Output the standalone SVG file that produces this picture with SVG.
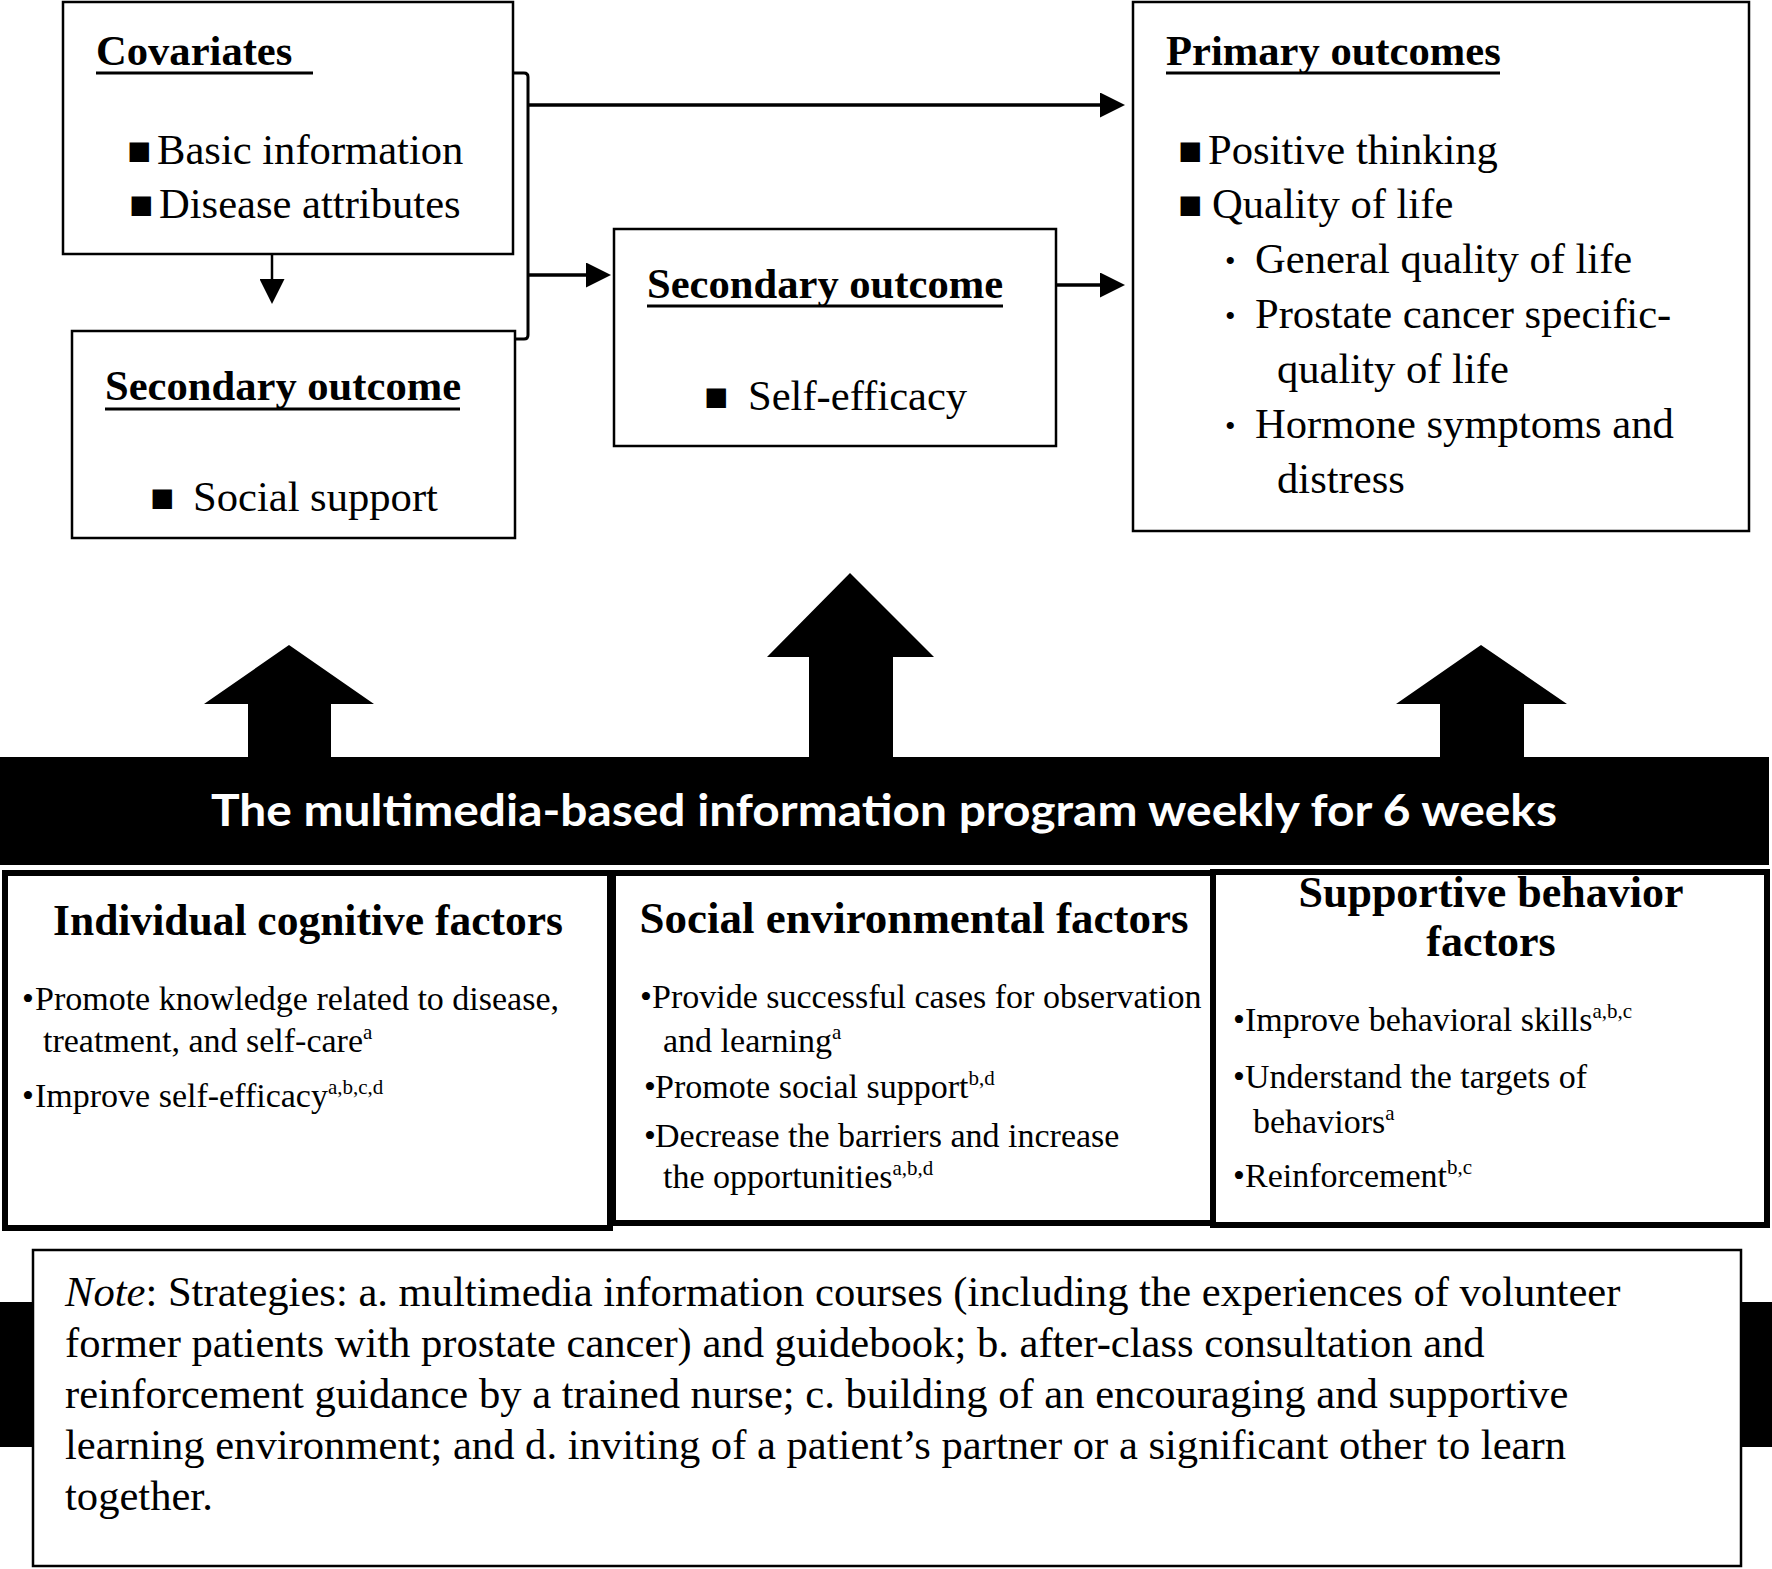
<svg xmlns="http://www.w3.org/2000/svg" width="1772" height="1569" viewBox="0 0 1772 1569">
<style>
.bx{fill:#fff;stroke:#000;stroke-width:2.5}
.fb{fill:#fff;stroke:#000;stroke-width:6}
.t{font-family:"Liberation Serif","Times New Roman",serif;fill:#000}
.h{font-size:42.6px;font-weight:bold}
.i{font-size:42.6px}
.s{font-size:34px}
.sq{font-size:40px}
.db{font-size:30px}
.sup{font-size:21px}
.ul{stroke:#000;stroke-width:3}
.ln{stroke:#000;stroke-width:3.5;fill:none}
.ft{font-size:45px;font-weight:bold;text-anchor:middle}
</style>
<defs>
<marker id="ah" viewBox="0 0 10 10" refX="0" refY="5" markerWidth="25" markerHeight="25" markerUnits="userSpaceOnUse" orient="auto">
<path d="M0,0 L10,5 L0,10 z" fill="#000"/>
</marker>
</defs>

<g id="covariates">
<rect class="bx" x="63" y="2" width="450" height="252"/>
<text class="t h" x="96" y="65">Covariates </text>
<line class="ul" x1="96" y1="73" x2="313" y2="73"/>
<text class="t sq" x="127" y="164">■</text>
<text class="t i" x="157" y="164">Basic information</text>
<text class="t sq" x="129" y="218">■</text>
<text class="t i" x="159" y="218">Disease attributes</text>
</g>

<g id="secondary-social">
<rect class="bx" x="72" y="331" width="443" height="207"/>
<text class="t h" x="105" y="400">Secondary outcome</text>
<line class="ul" x1="105" y1="409" x2="460" y2="409"/>
<text class="t sq" x="150" y="511">■</text>
<text class="t i" x="193" y="511">Social support</text>
</g>

<g id="secondary-selfefficacy">
<rect class="bx" x="614" y="229" width="442" height="217"/>
<text class="t h" x="647" y="298">Secondary outcome</text>
<line class="ul" x1="647" y1="306" x2="1003" y2="306"/>
<text class="t sq" x="704" y="410">■</text>
<text class="t i" x="748" y="410">Self-efficacy</text>
</g>

<g id="primary">
<rect class="bx" x="1133" y="2" width="616" height="529"/>
<text class="t h" x="1166" y="65">Primary outcomes</text>
<line class="ul" x1="1166" y1="73" x2="1500" y2="73"/>
<text class="t sq" x="1178" y="164">■</text>
<text class="t i" x="1208" y="164">Positive thinking</text>
<text class="t sq" x="1178" y="218">■</text>
<text class="t i" x="1212" y="218">Quality of life</text>
<text class="t db" x="1225" y="271">•</text>
<text class="t i" x="1255" y="273">General quality of life</text>
<text class="t db" x="1225" y="326">•</text>
<text class="t i" x="1255" y="328">Prostate cancer specific-</text>
<text class="t i" x="1277" y="383">quality of life</text>
<text class="t db" x="1225" y="436">•</text>
<text class="t i" x="1255" y="438">Hormone symptoms and</text>
<text class="t i" x="1277" y="493">distress</text>
</g>

<g id="connectors">
<path class="ln" style="stroke-width:3" d="M513,73 H524 Q528,73 528,77 V335 Q528,339 524,339 H515"/>
<path class="ln" d="M528,105 H1100" marker-end="url(#ah)"/>
<path class="ln" d="M528,275 H586" marker-end="url(#ah)"/>
<path class="ln" d="M1056,285 H1100" marker-end="url(#ah)"/>
<path class="ln" style="stroke-width:2.5" d="M272,254 V279" marker-end="url(#ah)"/>
<polygon fill="#000" points="289,645 374,704 331,704 331,760 248,760 248,704 204,704"/>
<polygon fill="#000" points="850,573 934,657 893,657 893,760 809,760 809,657 767,657"/>
<polygon fill="#000" points="1481,645 1567,704 1524,704 1524,760 1440,760 1440,704 1396,704"/>
</g>

<g id="program">
<rect x="0" y="757" width="1769" height="108" fill="#000"/>
<text x="211" y="826" fill="#fff" style="font-family:Lato,'Open Sans',sans-serif;font-size:44px;font-weight:bold" textLength="1346" lengthAdjust="spacingAndGlyphs">The multimedia-based information program weekly for 6 weeks</text>
</g>

<g id="individual-cognitive">
<rect class="fb" x="5" y="873" width="605" height="355"/>
<text class="t ft" x="308" y="935" style="font-size:43.5px">Individual cognitive factors</text>
<text class="t s" x="22" y="1010">•</text>
<text class="t s" x="35" y="1010">Promote knowledge related to disease,</text>
<text class="t s" x="43" y="1052">treatment, and self-care<tspan class="sup" dy="-13">a</tspan></text>
<text class="t s" x="22" y="1107">•</text>
<text class="t s" x="35" y="1107">Improve self-efficacy<tspan class="sup" dy="-13">a,b,c,d</tspan></text>
</g>

<g id="social-environmental">
<rect class="fb" x="613" y="873" width="600" height="350"/>
<text class="t ft" x="914" y="933">Social environmental factors</text>
<text class="t s" x="640" y="1008">•</text>
<text class="t s" x="652" y="1008">Provide successful cases for observation</text>
<text class="t s" x="663" y="1052">and learning<tspan class="sup" dy="-13">a</tspan></text>
<text class="t s" x="644" y="1098">•</text>
<text class="t s" x="655" y="1098">Promote social support<tspan class="sup" dy="-13">b,d</tspan></text>
<text class="t s" x="644" y="1147">•</text>
<text class="t s" x="655" y="1147">Decrease the barriers and increase</text>
<text class="t s" x="663" y="1188">the opportunities<tspan class="sup" dy="-13">a,b,d</tspan></text>
</g>

<g id="supportive-behavior">
<rect class="fb" x="1213" y="872" width="554" height="353"/>
<text class="t ft" x="1491" y="907" style="font-size:44px">Supportive behavior</text>
<text class="t ft" x="1491" y="956" style="font-size:44px">factors</text>
<text class="t s" x="1233" y="1031">•</text>
<text class="t s" x="1245" y="1031">Improve behavioral skills<tspan class="sup" dy="-13">a,b,c</tspan></text>
<text class="t s" x="1233" y="1088">•</text>
<text class="t s" x="1245" y="1088">Understand the targets of</text>
<text class="t s" x="1253" y="1133">behaviors<tspan class="sup" dy="-13">a</tspan></text>
<text class="t s" x="1233" y="1187">•</text>
<text class="t s" x="1245" y="1187">Reinforcement<tspan class="sup" dy="-13">b,c</tspan></text>
</g>

<g id="note">
<rect x="0" y="1302" width="1772" height="145" fill="#000"/>
<rect x="33" y="1250" width="1708" height="316" fill="#fff" stroke="#000" stroke-width="2.5"/>
<text class="t i" x="65" y="1306"><tspan font-style="italic">Note</tspan>: Strategies: a. multimedia information courses (including the experiences of volunteer</text>
<text class="t i" x="65" y="1357">former patients with prostate cancer) and guidebook; b. after-class consultation and</text>
<text class="t i" x="65" y="1408">reinforcement guidance by a trained nurse; c. building of an encouraging and supportive</text>
<text class="t i" x="65" y="1459">learning environment; and d. inviting of a patient’s partner or a significant other to learn</text>
<text class="t i" x="65" y="1510">together.</text>
</g>
</svg>
